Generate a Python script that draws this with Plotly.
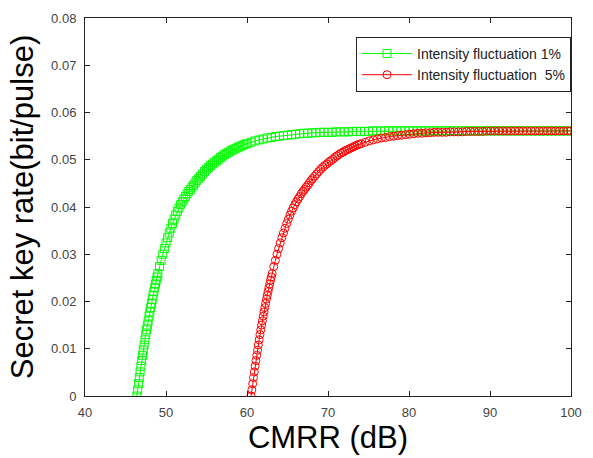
import plotly.graph_objects as go

# ---------------- data ----------------
cmrr_1pct = [
    46.4, 46.5, 46.6, 46.7, 46.8, 46.9, 47.0, 47.1, 47.2, 47.3, 47.4, 47.5, 47.6, 47.7,
    47.8, 47.9, 48.0, 48.1, 48.2, 48.3, 48.4, 48.5, 48.6, 48.7, 48.8, 48.9, 49.0,
    49.2, 49.4, 49.6, 49.8, 50.0, 50.2, 50.4, 50.6, 50.8, 51.0, 51.2, 51.4, 51.6,
    51.8, 52.0, 52.2, 52.4, 52.6, 52.8, 53.0, 53.2, 53.4, 53.6, 53.8, 54.0,
    54.25, 54.5, 54.75, 55.0, 55.25, 55.5, 55.75, 56.0, 56.25, 56.5, 56.75, 57.0,
    57.25, 57.5, 57.75, 58.0, 58.25, 58.5, 58.75, 59.0, 59.25, 59.5, 59.75, 60.0,
    60.5, 61.0, 61.5, 62.0, 62.5, 63.0, 63.5, 64.0, 64.5, 65.0, 65.5, 66.0, 66.5,
    67.0, 67.5, 68.0, 68.5, 69.0, 69.5, 70.0, 70.5, 71.0, 71.5, 72.0, 72.5, 73.0,
    73.5, 74.0, 74.5, 75.0, 75.5, 76.0, 76.5, 77.0, 77.5, 78.0, 78.5, 79.0, 79.5,
    80.0, 80.5, 81.0, 81.5, 82.0, 82.5, 83.0, 83.5, 84.0, 84.5, 85.0, 85.5, 86.0,
    86.5, 87.0, 87.5, 88.0, 88.5, 89.0, 89.5, 90.0, 90.5, 91.0, 91.5, 92.0, 92.5,
    93.0, 93.5, 94.0, 94.5, 95.0, 95.5, 96.0, 96.5, 97.0, 97.5, 98.0, 98.5, 99.0,
    99.5, 100.0,
]
rate_1pct = [
    0.0000, 0.0013, 0.0026, 0.0039, 0.0051, 0.0063, 0.0075, 0.0086, 0.0097, 0.0108,
    0.0119, 0.0130, 0.0140, 0.0150, 0.0159, 0.0169, 0.0178, 0.0187, 0.0196, 0.0205,
    0.0213, 0.0221, 0.0229, 0.0237, 0.0245, 0.0252, 0.0259,
    0.0274, 0.0287, 0.0300, 0.0312, 0.0324, 0.0335, 0.0345, 0.0355, 0.0365, 0.0374,
    0.0383, 0.0391, 0.0398, 0.0405, 0.0411, 0.0417, 0.0422, 0.0428, 0.0433, 0.0437,
    0.0442, 0.0446, 0.0451, 0.0456, 0.0460,
    0.0465, 0.0470, 0.0475, 0.0480, 0.0484, 0.0488, 0.0491, 0.0495, 0.0498, 0.0501,
    0.0505, 0.0508, 0.0511, 0.0514, 0.0516, 0.0519, 0.0521, 0.0523, 0.0525, 0.0527,
    0.0529, 0.0531, 0.0533, 0.0534,
    0.0537, 0.0540, 0.0542, 0.0544, 0.0546, 0.0547, 0.0549, 0.0550, 0.0551, 0.0552,
    0.0553, 0.0554, 0.0555, 0.0556, 0.0556, 0.0557, 0.0557, 0.0558, 0.0558, 0.0558,
    0.0558, 0.0559, 0.0559, 0.0559, 0.0559, 0.0560, 0.0560, 0.0560, 0.0560, 0.0560,
    0.0561, 0.0561, 0.0561, 0.0561, 0.0561, 0.0561, 0.0561, 0.0561, 0.0561, 0.0561,
    0.0561, 0.0561, 0.0561, 0.0561, 0.0561, 0.0561, 0.0561, 0.0561, 0.0561, 0.0561,
    0.0561, 0.0561, 0.0561, 0.0561, 0.0561, 0.0561, 0.0561, 0.0561, 0.0561, 0.0561,
    0.0561, 0.0561, 0.0561, 0.0561, 0.0561, 0.0561, 0.0561, 0.0561, 0.0561, 0.0561,
    0.0561, 0.0561, 0.0561, 0.0561, 0.0561, 0.0561, 0.0561, 0.0561, 0.0561, 0.0561,
]

cmrr_5pct = [
    60.5, 60.6, 60.7, 60.8, 60.9, 61.0, 61.1, 61.2, 61.3, 61.4, 61.5, 61.6, 61.7, 61.8,
    61.9, 62.0, 62.1, 62.2, 62.3, 62.4, 62.5, 62.6, 62.7, 62.8, 62.9, 63.0, 63.1,
    63.3, 63.5, 63.7, 63.9, 64.1, 64.3, 64.5, 64.7, 64.9, 65.1, 65.3, 65.5, 65.7,
    65.9, 66.1, 66.3, 66.5, 66.7, 66.9, 67.1, 67.3, 67.5, 67.7, 67.9, 68.1,
    68.35, 68.6, 68.85, 69.1, 69.35, 69.6, 69.85, 70.1, 70.35, 70.6, 70.85, 71.1,
    71.35, 71.6, 71.85, 72.1, 72.35, 72.6, 72.85, 73.1, 73.35, 73.6, 73.85, 74.1,
    74.6, 75.1, 75.6, 76.1, 76.6, 77.1, 77.6, 78.1, 78.6, 79.1, 79.6, 80.1, 80.6,
    81.1, 81.6, 82.1, 82.6, 83.1, 83.6, 84.1, 84.6, 85.1, 85.6, 86.1, 86.6, 87.1,
    87.6, 88.1, 88.6, 89.1, 89.6, 90.1, 90.6, 91.1, 91.6, 92.1, 92.6, 93.1, 93.6,
    94.1, 94.6, 95.1, 95.6, 96.1, 96.6, 97.1, 97.6, 98.1, 98.6, 99.1, 99.6, 100.0,
]
rate_5pct = [
    0.0000, 0.0013, 0.0026, 0.0039, 0.0051, 0.0063, 0.0075, 0.0086, 0.0097, 0.0108,
    0.0119, 0.0130, 0.0140, 0.0150, 0.0159, 0.0169, 0.0178, 0.0187, 0.0196, 0.0205,
    0.0213, 0.0221, 0.0229, 0.0237, 0.0245, 0.0252, 0.0259,
    0.0274, 0.0287, 0.0300, 0.0312, 0.0324, 0.0335, 0.0345, 0.0355, 0.0365, 0.0374,
    0.0383, 0.0391, 0.0398, 0.0405, 0.0411, 0.0417, 0.0422, 0.0428, 0.0433, 0.0437,
    0.0442, 0.0446, 0.0451, 0.0456, 0.0460,
    0.0465, 0.0470, 0.0475, 0.0480, 0.0484, 0.0488, 0.0491, 0.0495, 0.0498, 0.0501,
    0.0505, 0.0508, 0.0511, 0.0514, 0.0516, 0.0519, 0.0521, 0.0523, 0.0525, 0.0527,
    0.0529, 0.0531, 0.0533, 0.0534,
    0.0537, 0.0540, 0.0542, 0.0544, 0.0546, 0.0547, 0.0549, 0.0550, 0.0551, 0.0552,
    0.0553, 0.0554, 0.0555, 0.0556, 0.0556, 0.0557, 0.0557, 0.0558, 0.0558, 0.0558,
    0.0558, 0.0559, 0.0559, 0.0559, 0.0559, 0.0560, 0.0560, 0.0560, 0.0560, 0.0560,
    0.0561, 0.0561, 0.0561, 0.0561, 0.0561, 0.0561, 0.0561, 0.0561, 0.0561, 0.0561,
    0.0561, 0.0561, 0.0561, 0.0561, 0.0561, 0.0561, 0.0561, 0.0561, 0.0561, 0.0561,
    0.0561, 0.0561, 0.0561, 0.0561, 0.0561, 0.0561,
]

series_names = ["Intensity fluctuation 1%", "Intensity fluctuation\u00a0\u00a05%"]
x_ticks = [40, 50, 60, 70, 80, 90, 100]
y_ticks = [0, 0.01, 0.02, 0.03, 0.04, 0.05, 0.06, 0.07, 0.08]
y_tick_labels = ["0", "0.01", "0.02", "0.03", "0.04", "0.05", "0.06", "0.07", "0.08"]

FONT = "Arial, 'Liberation Sans', sans-serif"

fig = go.Figure()
fig.add_trace(go.Scatter(
    x=cmrr_1pct, y=rate_1pct, mode="lines+markers", name=series_names[0],
    line=dict(color="#00FF00", width=1),
    marker=dict(symbol="square-open", size=8, color="#00FF00", line=dict(width=1, color="#00FF00")),
))
fig.add_trace(go.Scatter(
    x=cmrr_5pct, y=rate_5pct, mode="lines+markers", name=series_names[1],
    line=dict(color="#FF0000", width=1),
    marker=dict(symbol="circle-open", size=8, color="#FF0000", line=dict(width=1, color="#FF0000")),
))

axis_common = dict(
    showline=True, linecolor="#222222", linewidth=1, mirror="allticks",
    ticks="inside", ticklen=5, tickwidth=1, tickcolor="#222222",
    showgrid=False, zeroline=False,
    tickfont=dict(family=FONT, size=13, color="#444444"),
)

fig.update_layout(
    width=593, height=458,
    margin=dict(l=85, r=12, t=11, b=61),
    paper_bgcolor="white", plot_bgcolor="white",
    font=dict(family=FONT),
    xaxis=dict(
        range=[40, 100], tickvals=x_ticks, ticktext=[str(v) for v in x_ticks],
        title=dict(text="CMRR (dB)", font=dict(family=FONT, size=31, color="black"), standoff=6),
        ticklabelstandoff=4,
        **axis_common,
    ),
    yaxis=dict(
        range=[0, 0.08], tickvals=y_ticks, ticktext=y_tick_labels,
        title=dict(text="Secret key rate(bit/pulse)", font=dict(family=FONT, size=31, color="black"), standoff=8),
        ticklabelstandoff=5,
        **axis_common,
    ),
    legend=dict(
        x=1.0, y=0.95, xanchor="right", yanchor="top",
        bgcolor="white", bordercolor="#222222", borderwidth=1,
        font=dict(family=FONT, size=14, color="#222222"),
        itemwidth=50, tracegroupgap=0,
    ),
    showlegend=True,
)

fig.write_html("out.html")
